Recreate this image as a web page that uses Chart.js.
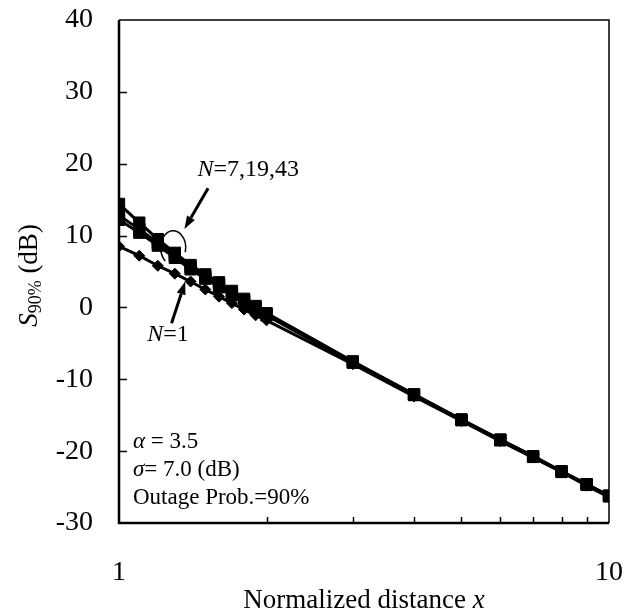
<!DOCTYPE html>
<html>
<head>
<meta charset="utf-8">
<script src="https://cdn.jsdelivr.net/npm/chart.js@4/dist/chart.umd.min.js"></script>
<style>
  html, body { margin: 0; padding: 0; background: #fff; }
  #wrap { width: 627px; height: 614px; position: relative; }
</style>
</head>
<body>
<div id="wrap"><canvas id="c"></canvas></div>
<script>
// ── Data ────────────────────────────────────────────────────────────────────
const distances = [1, 1.1, 1.2, 1.3, 1.4, 1.5, 1.6, 1.7, 1.8, 1.9, 2, 3, 4, 5, 6, 7, 8, 9, 10]
const sN1  = [8.5, 7.2, 5.8, 4.7, 3.6, 2.5, 1.5, 0.6, -0.3, -1.1, -1.8, -7.9, -12.4, -15.8, -18.6, -20.9, -22.9, -24.8, -26.4]
const sN7  = [12.2, 10.4, 8.6, 6.9, 5.3, 4.0, 2.8, 1.7, 0.7, -0.2, -1.1, -7.7, -12.2, -15.7, -18.5, -20.8, -22.9, -24.7, -26.3]
const sN19 = [12.8, 10.9, 9.0, 7.2, 5.6, 4.3, 3.2, 2.0, 1.0, 0.0, -0.9, -7.6, -12.1, -15.6, -18.4, -20.7, -22.8, -24.6, -26.2]
const sN43 = [14.4, 11.8, 9.5, 7.6, 5.9, 4.6, 3.5, 2.3, 1.2, 0.2, -0.8, -7.5, -12.1, -15.6, -18.4, -20.7, -22.8, -24.6, -26.2]
const yTicks = [-30, -20, -10, 0, 10, 20, 30, 40]
const xLabelled = [1, 10]
const xMinor = [2, 3, 4, 5, 6, 7, 8, 9]

const SERIF = '"Liberation Serif", "Times New Roman", serif'

function pts(ys) { return distances.map((x, i) => ({ x, y: ys[i] })) }

function series(label, ys, shape, r) {
  return {
    label, data: pts(ys),
    borderColor: '#000', backgroundColor: '#000',
    borderWidth: 3, pointStyle: shape, pointRadius: r,
    pointBorderWidth: 1, tension: 0
  }
}

// ── Text with italic parts: [[text, italic, sizeScale, dy]] ──────────────────
function runs(ctx, x, y, parts, size) {
  let cx = x
  for (const [t, it, sc = 1, dy = 0] of parts) {
    ctx.font = `${it ? 'italic ' : ''}${Math.round(size * sc)}px ${SERIF}`
    ctx.fillText(t, cx, y + dy)
    cx += ctx.measureText(t).width
  }
  return cx - x
}
function runsWidth(ctx, parts, size) {
  let w = 0
  for (const [t, it, sc = 1] of parts) {
    ctx.font = `${it ? 'italic ' : ''}${Math.round(size * sc)}px ${SERIF}`
    w += ctx.measureText(t).width
  }
  return w
}

function arrow(ctx, x1, y1, x2, y2) {
  const a = Math.atan2(y2 - y1, x2 - x1), L = 13, W = 4.5
  const bx = x2 - L * Math.cos(a), by = y2 - L * Math.sin(a)
  ctx.lineWidth = 3
  ctx.beginPath(); ctx.moveTo(x1, y1); ctx.lineTo(bx, by); ctx.stroke()
  ctx.beginPath()
  ctx.moveTo(x2, y2)
  ctx.lineTo(bx + W * Math.sin(a), by - W * Math.cos(a))
  ctx.lineTo(bx - W * Math.sin(a), by + W * Math.cos(a))
  ctx.closePath(); ctx.fill()
}

function noPad(s) { s.paddingLeft = 0; s.paddingRight = 0; s.paddingTop = 0; s.paddingBottom = 0 }

// ── Frame, inward ticks, titles, annotations ────────────────────────────────
const decor = {
  id: 'decor',
  afterDatasetsDraw(chart) {
    const { ctx, chartArea: a, scales: { x, y } } = chart
    ctx.save()
    ctx.strokeStyle = '#000'; ctx.fillStyle = '#000'

    // frame
    ctx.lineWidth = 1.5
    ctx.beginPath(); ctx.moveTo(a.left, a.top); ctx.lineTo(a.right, a.top); ctx.lineTo(a.right, a.bottom); ctx.stroke()
    ctx.lineWidth = 2.5
    ctx.beginPath(); ctx.moveTo(a.left, a.top); ctx.lineTo(a.left, a.bottom); ctx.lineTo(a.right, a.bottom); ctx.stroke()

    // inward ticks
    ctx.lineWidth = 1.5
    for (const v of yTicks) {
      if (v === y.min || v === y.max) continue
      const py = Math.round(y.getPixelForValue(v)) + 0.5
      ctx.beginPath(); ctx.moveTo(a.left, py); ctx.lineTo(a.left + 8, py); ctx.stroke()
    }
    for (const v of xMinor) {
      const px = Math.round(x.getPixelForValue(v)) + 0.5
      ctx.beginPath(); ctx.moveTo(px, a.bottom); ctx.lineTo(px, a.bottom - 6); ctx.stroke()
    }

    ctx.textBaseline = 'middle'
    ctx.textAlign = 'left'

    // x title
    const xt = [['Normalized distance ', false], ['x', true]]
    const xw = runsWidth(ctx, xt, 27)
    runs(ctx, (a.left + a.right) / 2 - xw / 2, 601, xt, 27)

    // y title (rotated)
    const yt = [['S', true], ['90%', false, 0.68, 6], [' (dB)', false]]
    const yw = runsWidth(ctx, yt, 27)
    ctx.save()
    ctx.translate(30, (a.top + a.bottom) / 2 + 4)
    ctx.rotate(-Math.PI / 2)
    runs(ctx, -yw / 2, 0, yt, 27)
    ctx.restore()

    // series labels
    runs(ctx, x.getPixelForValue(1.446), y.getPixelForValue(19.2), [['N', true], ['=7,19,43', false]], 24)
    runs(ctx, x.getPixelForValue(1.142), y.getPixelForValue(-3.8), [['N', true], ['=1', false]], 24)

    arrow(ctx, x.getPixelForValue(1.52), y.getPixelForValue(16.6), x.getPixelForValue(1.36), y.getPixelForValue(10.9))
    arrow(ctx, x.getPixelForValue(1.28), y.getPixelForValue(-2.2), x.getPixelForValue(1.365), y.getPixelForValue(3.6))

    // bracket arc around the N>1 curves
    ctx.lineWidth = 1.5
    ctx.beginPath()
    ctx.ellipse(x.getPixelForValue(1.29), y.getPixelForValue(8.3), 12.5, 17, 0, Math.PI * 0.72, Math.PI * 2.08)
    ctx.stroke()

    // parameters
    runs(ctx, a.left + 14, 442, [['\u03B1', true], [' = 3.5', false]], 23)
    runs(ctx, a.left + 14, 470, [['\u03C3', true], ['= 7.0 (dB)', false]], 23)
    runs(ctx, a.left + 14, 498, [['Outage Prob.=90%', false]], 23)
    ctx.restore()
  }
}

new Chart(document.getElementById('c'), {
  type: 'line',
  data: {
    datasets: [
      series('N=1', sN1, 'rectRot', 5.5),
      series('N=7', sN7, 'rect', 8),
      series('N=19', sN19, 'rect', 8),
      series('N=43', sN43, 'rect', 8)
    ]
  },
  options: {
    responsive: true,
    maintainAspectRatio: false,
    animation: false,
    devicePixelRatio: 1,
    layout: { padding: { top: 20, right: 18, left: 0, bottom: 0 } },
    plugins: { legend: { display: false }, tooltip: { enabled: false } },
    scales: {
      x: {
        type: 'logarithmic', min: 1, max: 10,
        border: { display: false },
        grid: { display: false, drawTicks: false },
        afterFit: s => { s.height = 91; noPad(s) },
        ticks: {
          autoSkip: false, maxRotation: 0, padding: 33, color: '#000',
          font: { family: SERIF, size: 28 },
          callback: v => xLabelled.includes(v) ? String(v) : ''
        }
      },
      y: {
        min: -30, max: 40,
        border: { display: false },
        grid: { display: false, drawTicks: false },
        afterFit: s => { s.width = 119; noPad(s) },
        afterBuildTicks: s => { s.ticks = yTicks.map(v => ({ value: v })) },
        ticks: { padding: 26, color: '#000', font: { family: SERIF, size: 28 } }
      }
    }
  },
  plugins: [decor]
})
</script>
</body>
</html>
